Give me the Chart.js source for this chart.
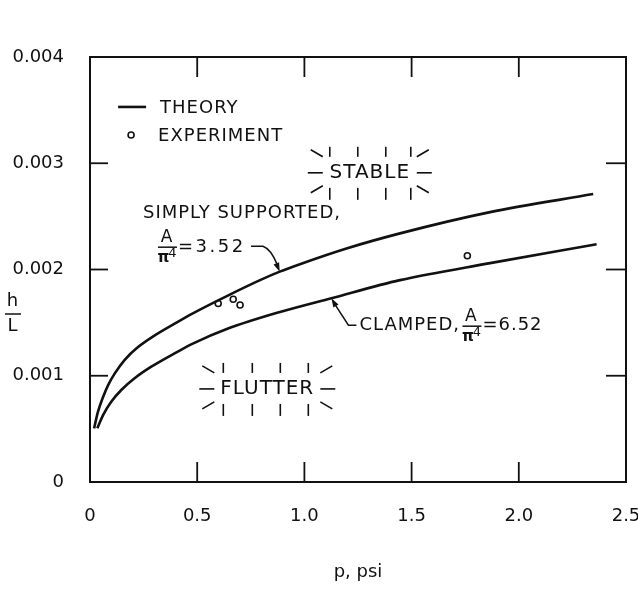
<!DOCTYPE html>
<html>
<head>
<meta charset="utf-8">
<script src="https://cdn.jsdelivr.net/npm/chart.js@4.4.1/dist/chart.umd.min.js"></script>
<style>
  html, body { margin: 0; padding: 0; background: #fff; overflow: hidden; }
  #wrap { width: 680px; height: 591px; }
</style>
</head>
<body>
<div id="wrap"><canvas id="flutterChart" width="680" height="591"></canvas></div>
<script>
// Theory: simply supported panel, A/pi^4 = 3.52
const pSimply = [0.019, 0.037, 0.061, 0.084, 0.115, 0.162, 0.224, 0.302, 0.403, 0.482, 0.638, 0.793, 0.885, 0.979, 1.20, 1.446, 1.866, 2.347];
const hSimply = [0.000505, 0.00066, 0.00080, 0.00091, 0.00102, 0.00115, 0.00127, 0.00138, 0.00150, 0.00159, 0.00175, 0.00190, 0.00198, 0.00205, 0.00220, 0.00234, 0.00254, 0.00271];

// Theory: clamped panel, A/pi^4 = 6.52
const pClamped = [0.034, 0.061, 0.099, 0.146, 0.208, 0.286, 0.403, 0.482, 0.638, 0.886, 1.126, 1.446, 1.866, 2.363];
const hClamped = [0.000505, 0.00063, 0.000756, 0.000866, 0.000976, 0.001085, 0.00122, 0.001305, 0.00144, 0.00160, 0.00173, 0.00190, 0.00206, 0.002237];

// Experiment points
const pExperiment = [0.598, 0.668, 0.70, 1.76];
const hExperiment = [0.00168, 0.00172, 0.001666, 0.00213];

// Tick labels
const xTickLabels = ['0', '0.5', '1.0', '1.5', '2.0', '2.5'];
const yTickLabels = ['0', '0.001', '0.002', '0.003', '0.004'];

const ink = '#111';
const fontFamily = '"DejaVu Sans", sans-serif';

function toPoints(xs, ys) {
    return xs.map((x, i) => ({ x: x, y: ys[i] }));
}

function seg(ctx, x1, y1, x2, y2) {
    ctx.beginPath();
    ctx.moveTo(x1, y1);
    ctx.lineTo(x2, y2);
    ctx.stroke();
}

// "- STABLE -" style sunburst marks round a word
function burst(ctx, cx, cy, inner, xs) {
    seg(ctx, cx - inner - 15, cy, cx - inner, cy);
    seg(ctx, cx + inner, cy, cx + inner + 15, cy);
    seg(ctx, cx - inner - 12, cy - 23, cx - inner, cy - 16);
    seg(ctx, cx + inner, cy - 16, cx + inner + 12, cy - 23);
    seg(ctx, cx - inner - 12, cy + 20, cx - inner, cy + 13);
    seg(ctx, cx + inner, cy + 13, cx + inner + 12, cy + 20);
    xs.forEach(dx => {
        seg(ctx, cx + dx, cy - 26, cx + dx, cy - 16);
        seg(ctx, cx + dx, cy + 15, cx + dx, cy + 27);
    });
}

// A over pi^4, centred at (cx, line y)
function fraction(ctx, cx, ly) {
    ctx.textAlign = 'center';
    ctx.font = '17px ' + fontFamily;
    ctx.fillText('A', cx, ly - 10);
    ctx.font = 'bold 15px ' + fontFamily;
    ctx.fillText('\u03c0', cx - 3, ly + 11);
    ctx.font = '13px ' + fontFamily;
    ctx.fillText('4', cx + 6, ly + 6);
    ctx.lineWidth = 1.5;
    seg(ctx, cx - 9, ly, cx + 10, ly);
}

function arrowHead(ctx, fromX, fromY, tipX, tipY) {
    const ang = Math.atan2(tipY - fromY, tipX - fromX);
    ctx.beginPath();
    ctx.moveTo(tipX, tipY);
    ctx.lineTo(tipX - 9 * Math.cos(ang) + 3 * Math.sin(ang), tipY - 9 * Math.sin(ang) - 3 * Math.cos(ang));
    ctx.lineTo(tipX - 9 * Math.cos(ang) - 3 * Math.sin(ang), tipY - 9 * Math.sin(ang) + 3 * Math.cos(ang));
    ctx.closePath();
    ctx.fill();
}

const decorations = {
    id: 'decorations',
    afterDatasetsDraw(chart) {
        const { ctx, chartArea: a, scales: { x, y } } = chart;
        ctx.save();
        ctx.strokeStyle = ink;
        ctx.fillStyle = ink;
        ctx.lineCap = 'butt';

        // frame
        ctx.lineWidth = 2;
        ctx.strokeRect(a.left, a.top, a.right - a.left, a.bottom - a.top);

        // inward ticks on all four sides
        ctx.lineWidth = 1.8;
        x.ticks.forEach(t => {
            if (t.value <= x.min || t.value >= x.max) return;
            const px = x.getPixelForValue(t.value);
            seg(ctx, px, a.bottom, px, a.bottom - 20);
            seg(ctx, px, a.top, px, a.top + 20);
        });
        y.ticks.forEach(t => {
            if (t.value <= y.min || t.value >= y.max) return;
            const py = y.getPixelForValue(t.value);
            seg(ctx, a.left, py, a.left + 18, py);
            seg(ctx, a.right, py, a.right - 20, py);
        });

        ctx.letterSpacing = '1px';
        ctx.textBaseline = 'middle';

        // y axis title h / L
        ctx.font = '18px ' + fontFamily;
        ctx.textAlign = 'center';
        ctx.fillText('h', 13, 301);
        ctx.fillText('L', 13, 326);
        ctx.lineWidth = 1.5;
        seg(ctx, 5, 314, 21, 314);

        // legend
        const lx = x.getPixelForValue(0.131), ly = y.getPixelForValue(0.00353);
        ctx.lineWidth = 2.6;
        seg(ctx, lx, ly, lx + 28, ly);
        ctx.lineWidth = 1.6;
        ctx.beginPath();
        ctx.arc(lx + 13, ly + 28, 3, 0, Math.PI * 2);
        ctx.stroke();
        ctx.textAlign = 'left';
        ctx.fillText('THEORY', lx + 42, ly + 1);
        ctx.fillText('EXPERIMENT', lx + 40, ly + 29);

        // region words
        ctx.font = '20px ' + fontFamily;
        ctx.textAlign = 'center';
        const sx = x.getPixelForValue(1.305), sy = y.getPixelForValue(0.00291);
        ctx.fillText('STABLE', sx, sy);
        const fx = x.getPixelForValue(0.827), fy = y.getPixelForValue(0.000876);
        ctx.fillText('FLUTTER', fx, fy);
        ctx.lineWidth = 1.6;
        burst(ctx, sx, sy, 47, [-40, -12, 16, 41]);
        burst(ctx, fx, fy, 53, [-44, -15, 13, 41]);

        // simply supported label
        const ax = x.getPixelForValue(0.247), ay = y.getPixelForValue(0.00253);
        ctx.font = '18px ' + fontFamily;
        ctx.textAlign = 'left';
        ctx.fillText('SIMPLY SUPPORTED,', ax, ay);
        fraction(ctx, ax + 24, ay + 34);
        ctx.font = '18px ' + fontFamily;
        ctx.textAlign = 'left';
        ctx.letterSpacing = '2.5px';
        ctx.fillText('=3.52', ax + 35, ay + 34);
        ctx.letterSpacing = '1px';
        const tipS = { x: x.getPixelForValue(0.885), y: y.getPixelForValue(0.00198) };
        ctx.lineWidth = 1.5;
        ctx.beginPath();
        ctx.moveTo(ax + 108, ay + 33);
        ctx.lineTo(ax + 120, ay + 33);
        ctx.quadraticCurveTo(ax + 128, ay + 36, tipS.x - 3, tipS.y - 8);
        ctx.stroke();
        arrowHead(ctx, tipS.x - 5, tipS.y - 12, tipS.x, tipS.y);

        // clamped label
        const tipC = { x: x.getPixelForValue(1.126), y: y.getPixelForValue(0.00173) };
        ctx.beginPath();
        ctx.moveTo(tipC.x + 4, tipC.y + 7);
        ctx.lineTo(tipC.x + 17, tipC.y + 27);
        ctx.lineTo(tipC.x + 25, tipC.y + 27);
        ctx.stroke();
        arrowHead(ctx, tipC.x + 7, tipC.y + 12, tipC.x, tipC.y);
        ctx.font = '18px ' + fontFamily;
        ctx.textAlign = 'left';
        ctx.fillText('CLAMPED,', tipC.x + 28, tipC.y + 27);
        fraction(ctx, tipC.x + 140, tipC.y + 28);
        ctx.font = '18px ' + fontFamily;
        ctx.textAlign = 'left';
        ctx.fillText('=6.52', tipC.x + 151, tipC.y + 27);

        ctx.restore();
    }
};

const ctx = document.getElementById('flutterChart').getContext('2d');
const chart = new Chart(ctx, {
    type: 'line',
    data: {
        datasets: [
            {
                label: 'Simply supported',
                data: toPoints(pSimply, hSimply),
                borderColor: ink,
                borderWidth: 2.6,
                pointRadius: 0,
                cubicInterpolationMode: 'monotone',
                fill: false
            },
            {
                label: 'Clamped',
                data: toPoints(pClamped, hClamped),
                borderColor: ink,
                borderWidth: 2.6,
                pointRadius: 0,
                cubicInterpolationMode: 'monotone',
                fill: false
            },
            {
                label: 'Experiment',
                type: 'scatter',
                data: toPoints(pExperiment, hExperiment),
                showLine: false,
                pointRadius: 3,
                pointBorderWidth: 1.6,
                pointBorderColor: ink,
                pointBackgroundColor: '#fff'
            }
        ]
    },
    options: {
        responsive: false,
        animation: false,
        devicePixelRatio: 1,
        layout: {
            padding: { top: 57, right: 54, bottom: 0, left: 0 }
        },
        scales: {
            x: {
                type: 'linear',
                min: 0,
                max: 2.5,
                grid: { display: false, drawTicks: false },
                border: { display: false },
                ticks: {
                    stepSize: 0.5,
                    padding: 24,
                    color: ink,
                    font: { family: fontFamily, size: 18 },
                    callback: function(value) {
                        return xTickLabels[Math.round(value / 0.5)];
                    }
                },
                title: {
                    display: true,
                    text: 'p, psi',
                    color: ink,
                    font: { family: fontFamily, size: 18 },
                    padding: { top: 0, bottom: 8 }
                },
                afterFit: function(scale) { scale.height = 109; }
            },
            y: {
                min: 0,
                max: 0.004,
                grid: { display: false, drawTicks: false },
                border: { display: false },
                ticks: {
                    stepSize: 0.001,
                    padding: 26,
                    color: ink,
                    font: { family: fontFamily, size: 18 },
                    callback: function(value) {
                        return yTickLabels[Math.round(value / 0.001)];
                    }
                },
                afterFit: function(scale) { scale.width = 90; }
            }
        },
        plugins: {
            legend: { display: false },
            tooltip: { enabled: false }
        }
    },
    plugins: [decorations]
});
</script>
</body>
</html>
